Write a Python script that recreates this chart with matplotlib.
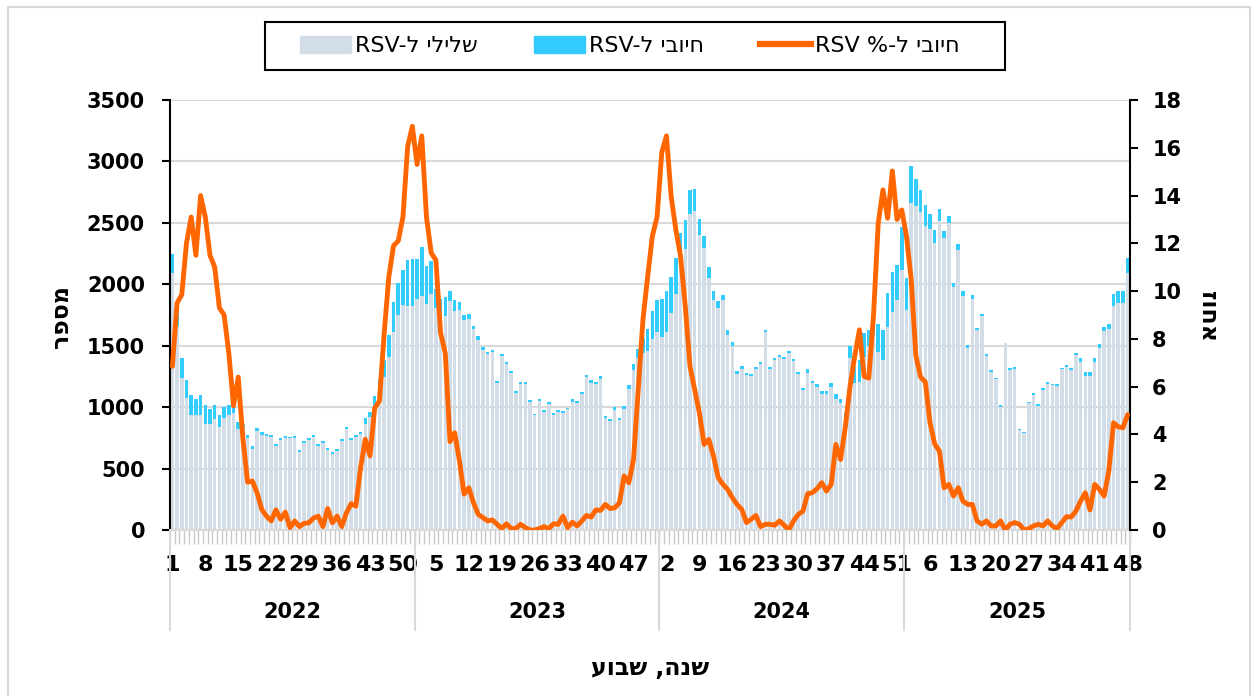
import numpy as np
import matplotlib.pyplot as plt
import matplotlib.transforms as mtransforms
from matplotlib.patches import Patch, Rectangle
from matplotlib.lines import Line2D

plt.rcParams['font.family'] = ['DejaVu Sans']

# ---- data ----
years = ['2022', '2023', '2024', '2025']
weeks_in_year = [52, 52, 52, 48]

# tests negative to RSV (gray part of the bar)
neg_2022 = [2094, 1660, 1240, 1072, 940, 936, 936, 865, 862, 900, 841, 909, 940, 955, 820, 835,
            746, 662, 806, 777, 765, 757, 684, 733, 749, 746, 749, 638, 705, 733, 757, 684,
            708, 654, 621, 640, 722, 819, 730, 760, 779, 865, 920, 1010, 1150, 1248, 1411, 1614,
            1750, 1830, 1820, 1820]
neg_2023 = [1880, 1905, 1840, 1920, 1810, 1760, 1745, 1862, 1782, 1790, 1709, 1717, 1632, 1546, 1465, 1430,
            1446, 1194, 1413, 1351, 1275, 1112, 1186, 1186, 1044, 935, 1050, 960, 1023, 936, 960, 950,
            982, 1044, 1034, 1104, 1245, 1199, 1188, 1232, 910, 885, 980, 896, 982, 1150, 1305, 1400,
            1440, 1457, 1555, 1614]
neg_2024 = [1574, 1614, 1764, 1921, 2220, 2290, 2570, 2600, 2398, 2295, 2051, 1872, 1810, 1872, 1587, 1498,
            1267, 1308, 1262, 1253, 1308, 1348, 1609, 1313, 1381, 1411, 1394, 1441, 1375, 1267, 1139, 1281,
            1194, 1167, 1104, 1104, 1167, 1063, 1031, 930, 1400, 1194, 1208, 1411, 1500, 1587, 1452, 1384,
            1655, 1777, 1872, 2117]
neg_2025 = [1791, 2664, 2635, 2585, 2471, 2450, 2339, 2512, 2380, 2496, 1978, 2276, 1908, 1480, 1883, 1628,
            1742, 1416, 1286, 1226, 1004, 1520, 1305, 1310, 811, 790, 1031, 1101, 1009, 1139, 1191, 1177,
            1172, 1308, 1327, 1302, 1424, 1367, 1253, 1253, 1367, 1484, 1620, 1633, 1823, 1850, 1850, 2094]

# tests positive to RSV (cyan part on top)
pos_2022 = [155, 190, 160, 149, 160, 127, 163, 155, 120, 117, 95, 89, 80, 50, 62, 30,
            27, 25, 27, 23, 19, 16, 19, 13, 16, 14, 13, 16, 17, 13, 16, 16,
            16, 16, 14, 17, 16, 19, 16, 16, 21, 44, 43, 78, 80, 136, 176, 244,
            258, 290, 378, 383]
pos_2023 = [323, 395, 309, 270, 150, 120, 155, 83, 88, 65, 41, 43, 28, 33, 24, 21,
            22, 16, 22, 19, 16, 19, 19, 19, 17, 6, 16, 14, 21, 16, 17, 16,
            14, 19, 16, 19, 17, 19, 19, 19, 18, 19, 18, 19, 24, 33, 50, 71,
            120, 181, 227, 255]
pos_2024 = [304, 331, 293, 291, 200, 235, 200, 175, 136, 98, 92, 71, 57, 43, 38, 29,
            24, 24, 16, 14, 21, 22, 16, 16, 16, 16, 17, 16, 19, 16, 17, 27,
            21, 21, 27, 27, 27, 41, 37, 30, 100, 131, 176, 190, 130, 95, 225, 244,
            271, 326, 285, 352]
pos_2025 = [258, 299, 222, 185, 172, 123, 100, 98, 51, 57, 32, 54, 36, 22, 32, 16,
            16, 14, 14, 14, 11, 5, 13, 14, 11, 5, 14, 17, 16, 14, 16, 11,
            14, 13, 16, 17, 19, 30, 33, 33, 36, 33, 35, 46, 95, 95, 95, 117]

# percent positive (orange line, right axis)
pct_2022 = [6.85, 9.5, 9.85, 12.0, 13.1, 11.5, 14.0, 13.1, 11.5, 11.0, 9.3, 9.0, 7.4, 5.2, 6.4, 3.8,
            2.0, 2.05, 1.56, 0.86, 0.58, 0.38, 0.84, 0.45, 0.75, 0.1, 0.38, 0.14, 0.28, 0.3, 0.5, 0.58,
            0.14, 0.9, 0.3, 0.58, 0.14, 0.72, 1.1, 1.0, 2.6, 3.8, 3.1, 5.1, 5.4, 8.2, 10.6, 11.9,
            12.1, 13.1, 16.05, 16.9]
pct_2023 = [15.3, 16.5, 13.1, 11.6, 11.3, 8.25, 7.4, 3.7, 4.07, 2.9, 1.5, 1.77, 1.14, 0.65, 0.52, 0.38,
            0.42, 0.24, 0.06, 0.26, 0.06, 0.06, 0.24, 0.1, 0.0, 0.0, 0.06, 0.14, 0.06, 0.26, 0.24, 0.58,
            0.1, 0.33, 0.17, 0.38, 0.61, 0.54, 0.84, 0.82, 1.07, 0.9, 0.93, 1.14, 2.26, 1.98, 2.95, 5.9,
            8.8, 10.6, 12.3, 13.1]
pct_2024 = [15.8, 16.5, 13.96, 12.56, 11.45, 9.36, 6.85, 5.88, 4.9, 3.58, 3.79, 3.09, 2.19, 1.91, 1.7, 1.35,
            1.07, 0.86, 0.31, 0.45, 0.61, 0.14, 0.24, 0.24, 0.2, 0.38, 0.2, 0.0, 0.38, 0.65, 0.79, 1.52,
            1.56, 1.73, 1.98, 1.63, 1.91, 3.58, 2.95, 4.3, 6.0, 7.27, 8.38, 6.43, 6.36, 9.0, 12.84, 14.24,
            13.05, 15.03, 13.0, 13.4]
pct_2025 = [12.3, 10.5, 7.3, 6.4, 6.2, 4.5, 3.6, 3.3, 1.77, 1.91, 1.42, 1.77, 1.21, 1.07, 1.07, 0.38,
            0.24, 0.38, 0.17, 0.17, 0.38, 0.0, 0.24, 0.31, 0.24, 0.0, 0.06, 0.17, 0.24, 0.17, 0.38, 0.17,
            0.06, 0.31, 0.56, 0.54, 0.79, 1.21, 1.56, 0.84, 1.91, 1.7, 1.42, 2.47, 4.49, 4.32, 4.28, 4.83]

neg = np.array(neg_2022 + neg_2023 + neg_2024 + neg_2025)
pos = np.array(pos_2022 + pos_2023 + pos_2024 + pos_2025)
pct = np.array(pct_2022 + pct_2023 + pct_2024 + pct_2025)
weeks = [w for n in weeks_in_year for w in range(1, n + 1)]
x = np.arange(len(weeks))

# hebrew strings are given in visual (left to right) order
lbl_neg = 'RSV-ל ' + 'שלילי'[::-1]
lbl_pos = 'RSV-ל ' + 'חיובי'[::-1]
lbl_pct = 'RSV %-ל ' + 'חיובי'[::-1]

c_neg = '#d3dde7'
c_pos = '#33ccff'
c_line = '#ff6600'

fig = plt.figure(figsize=(12.55, 6.96), dpi=100)
ax = fig.add_axes([170 / 1255, 1 - 530 / 696, 960 / 1255, 430 / 696])

ax.bar(x, neg, width=0.74, color=c_neg, zorder=2)
ax.bar(x, pos, bottom=neg, width=0.74, color=c_pos, zorder=2)

ax.set_xlim(-0.5, len(x) - 0.5)
ax.set_ylim(0, 3500)
ax.set_yticks(np.arange(0, 3501, 500))
ax.yaxis.grid(True, color='#d9d9d9', lw=1.5)
ax.set_axisbelow(True)
for s in ['top', 'right']:
    ax.spines[s].set_visible(False)
ax.spines['left'].set_linewidth(1.5)
ax.spines['bottom'].set_color('#d9d9d9')
ax.spines['bottom'].set_linewidth(1.5)
ax.tick_params(axis='y', direction='out', length=6, width=1.5, labelsize=15, pad=12)
for t in ax.get_yticklabels():
    t.set_fontweight('bold')

# week labels every 7 weeks, small gray tick for every week
ax.set_xticks(x[::7])
ax.set_xticklabels([str(w) for w in weeks[::7]], fontsize=16, fontweight='bold')
ax.set_xticks(np.arange(-0.5, len(x), 1), minor=True)
ax.tick_params(axis='x', which='major', length=0, pad=18)
ax.tick_params(axis='x', which='minor', length=10, width=1, color='#c8c8c8')

# year labels and separators
trans = mtransforms.blended_transform_factory(ax.transData, ax.transAxes)
edges = np.concatenate([[0], np.cumsum(weeks_in_year)]) - 0.5
for e in edges:
    ax.plot([e, e], [0, -0.233], transform=trans, color='#d9d9d9', lw=1.5, clip_on=False)
for k, yr in enumerate(years):
    ax.text((edges[k] + edges[k + 1]) / 2, -0.19, yr, transform=trans, ha='center', va='center',
            fontsize=15, fontweight='bold')

ax2 = ax.twinx()
ax2.plot(x, pct, color=c_line, lw=3.5, solid_joinstyle='round', solid_capstyle='round', zorder=3)
ax2.set_ylim(0, 18)
ax2.set_yticks(np.arange(0, 19, 2))
for s in ['top', 'left', 'bottom']:
    ax2.spines[s].set_visible(False)
ax2.spines['right'].set_linewidth(1.5)
ax2.tick_params(axis='y', direction='out', length=6, width=1.5, labelsize=15, pad=10)
for t in ax2.get_yticklabels():
    t.set_fontweight('bold')

fig.text(61 / 1255, 1 - 316 / 696, 'מספר'[::-1], rotation=90, ha='center', va='center',
         fontsize=17, fontweight='bold')
fig.text(1208 / 1255, 1 - 316 / 696, 'אחוז'[::-1], rotation=-90, ha='center', va='center',
         fontsize=17, fontweight='bold')
fig.text(650 / 1255, 1 - 668 / 696, 'שנה, שבוע'[::-1], ha='center', va='center',
         fontsize=17, fontweight='bold')

# legend without its own frame, box drawn separately
handles = [Patch(color=c_neg), Patch(color=c_pos), Line2D([], [], color=c_line, lw=4.5)]
leg = fig.legend(handles, [lbl_neg, lbl_pos, lbl_pct], loc='center',
                 bbox_to_anchor=(630 / 1255, 1 - 46 / 696), ncol=3, frameon=False, fontsize=16,
                 handlelength=2.3, handleheight=0.8, handletextpad=0.2, columnspacing=2.5,
                 borderpad=0, borderaxespad=0)
fig.patches.append(Rectangle((265 / 1255, 1 - 70 / 696), 740 / 1255, 48 / 696, transform=fig.transFigure,
                             fill=False, edgecolor='black', lw=1.5))

fig.patches.append(Rectangle((8 / 1255, -0.01), 1242 / 1255, 1 - 7 / 696 + 0.01, transform=fig.transFigure,
                             fill=False, edgecolor='#d9d9d9', lw=1.5))

fig.savefig('out.png', dpi=100)
